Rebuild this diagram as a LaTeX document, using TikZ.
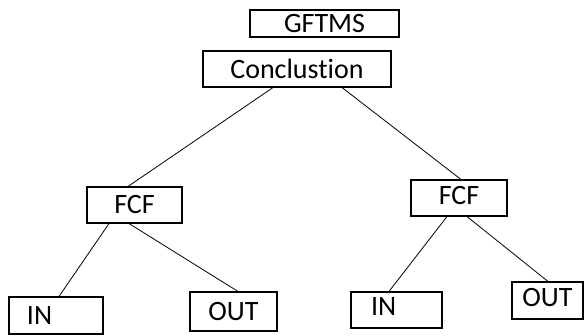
\documentclass[tikz,border=0pt]{standalone}
\usepackage{fontspec}
\setmainfont{Carlito}[RawFeature=-liga]
\begin{document}
\begin{tikzpicture}
        [x=1pt, y=-1pt,
        box/.style={rectangle, draw, line width=1.1pt, inner sep=0pt, font=\fontsize{28}{30}\selectfont},
        edge/.style={line width=0.8pt}]

        \useasboundingbox (0,0) rectangle (584,336);

        % Boxes of the tree
        \node[box, minimum width=149pt, minimum height=27pt] (G) at (324.5,23.5) {GFTMS};
        \node[box, minimum width=188pt, minimum height=36pt] (C) at (297,69) {Conclustion};
        \node[box, minimum width=95pt, minimum height=36pt] (FL) at (134.5,205) {FCF};
        \node[box, minimum width=96pt, minimum height=36pt, text depth=6pt] (FR) at (459,198) {FCF};
        \node[box, minimum height=37pt, inner xsep=18pt, text width=58pt, align=left] (IL) at (56,315.5) {IN};
        \node[box, minimum width=87pt, minimum height=39pt] (OL) at (233.5,311.5) {OUT};
        \node[box, minimum height=36pt, inner xsep=20pt, text width=51pt, align=left, text depth=6pt] (IR) at (396.5,310) {IN};
        \node[box, minimum width=71pt, minimum height=37pt, text depth=6pt] (OR) at (547.5,300.5) {OUT};

        % Edges from the conclusion
        \draw[edge] ([xshift=-24pt]C.south) -- ([xshift=-6.5pt]FL.north);
        \draw[edge] ([xshift=45pt]C.south) -- ([xshift=2pt]FR.north);

        % Edges from the left FCF
        \draw[edge] ([xshift=-25.5pt]FL.south) -- ([xshift=3pt]IL.north);
        \draw[edge] ([xshift=-5.5pt]FL.south) -- ([xshift=4.5pt]OL.north);

        % Edges from the right FCF
        \draw[edge] ([xshift=-12pt]FR.south) -- ([xshift=-7.5pt]IR.north);
        \draw[edge] ([xshift=8pt]FR.south) -- ([xshift=0.5pt]OR.north);

    \end{tikzpicture}
\end{document}
